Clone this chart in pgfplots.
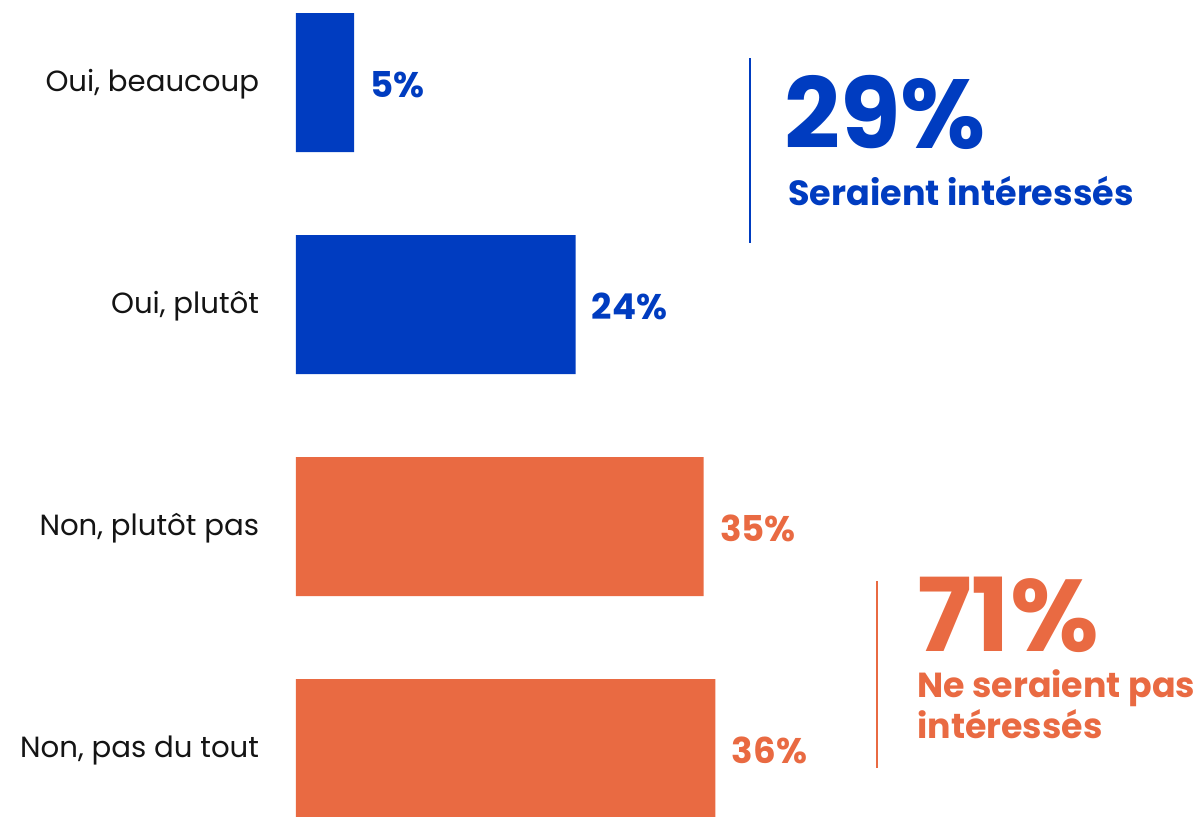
\documentclass[border=0pt]{standalone}
\usepackage{pgfplots}
\pgfplotsset{compat=1.18}
\usepackage{fontspec}
\setmainfont{Poppins}
\definecolor{cblue}{HTML}{003CC0}
\definecolor{corange}{HTML}{E96A42}
\begin{document}
\begin{tikzpicture}
\begin{axis}[
  scale only axis,
  width=453pt, height=408pt,
  xmin=0, xmax=77.77,
  ymin=-0.3716, ymax=3.3041,
  y dir=reverse,
  xbar, bar width=69.5pt, bar shift=0pt,
  axis line style={draw=none},
  tick style={draw=none},
  xtick=\empty,
  ytick={0,1,2,3},
  yticklabels={{Oui, beaucoup},{Oui, plutôt},{Non, plutôt pas},{Non, pas du tout}},
  yticklabel style={font=\fontsize{14.6}{17}\selectfont, text=black!92, inner sep=0pt, anchor=east, xshift=-14pt, yshift=-1pt},
  /pgf/number format/assume math mode=true,
  nodes near coords={\pgfmathprintnumber{\pgfplotspointmeta}\%},
  point meta=x,
  nodes near coords style={font=\fontsize{17.8}{20}\selectfont\bfseries, anchor=west, inner sep=0pt, xshift=8pt, yshift=-1pt},
  clip=false,
]
\addplot[fill=cblue, draw=none, nodes near coords style={text=cblue}] coordinates {(5,0) (24,1)};
\addplot[fill=corange, draw=none, nodes near coords style={text=corange}] coordinates {(35,2) (36,3)};

\draw[cblue, line width=1pt] (axis cs:38.97,-0.110) -- (axis cs:38.97,0.723);
\node[anchor=base west, inner sep=0pt, text depth=0pt, text=cblue, font=\fontsize{49}{49}\selectfont\bfseries] at (axis cs:41.9,0.2995) {29\%};
\node[anchor=base west, inner sep=0pt, text=cblue, font=\fontsize{17.5}{20}\selectfont\bfseries] at (axis cs:42.23,0.552) {Seraient intéressés};

\draw[corange, line width=1pt] (axis cs:49.87,2.245) -- (axis cs:49.87,3.088);
\node[anchor=base west, inner sep=0pt, text depth=0pt, text=corange, font=\fontsize{51}{51}\selectfont\bfseries] at (axis cs:53.3,2.565) {71\%};
\node[anchor=base west, inner sep=0pt, text depth=0pt, text=corange, font=\fontsize{17.4}{20}\selectfont\bfseries] at (axis cs:53.3,2.772) {Ne seraient pas};
\node[anchor=base west, inner sep=0pt, text height=12pt, text=corange, font=\fontsize{17.4}{20}\selectfont\bfseries] at (axis cs:53.3,2.953) {intéressés};
\end{axis}
\pgfresetboundingbox
\path (-148pt,0pt) rectangle (453pt,408pt);
\end{tikzpicture}
\end{document}
